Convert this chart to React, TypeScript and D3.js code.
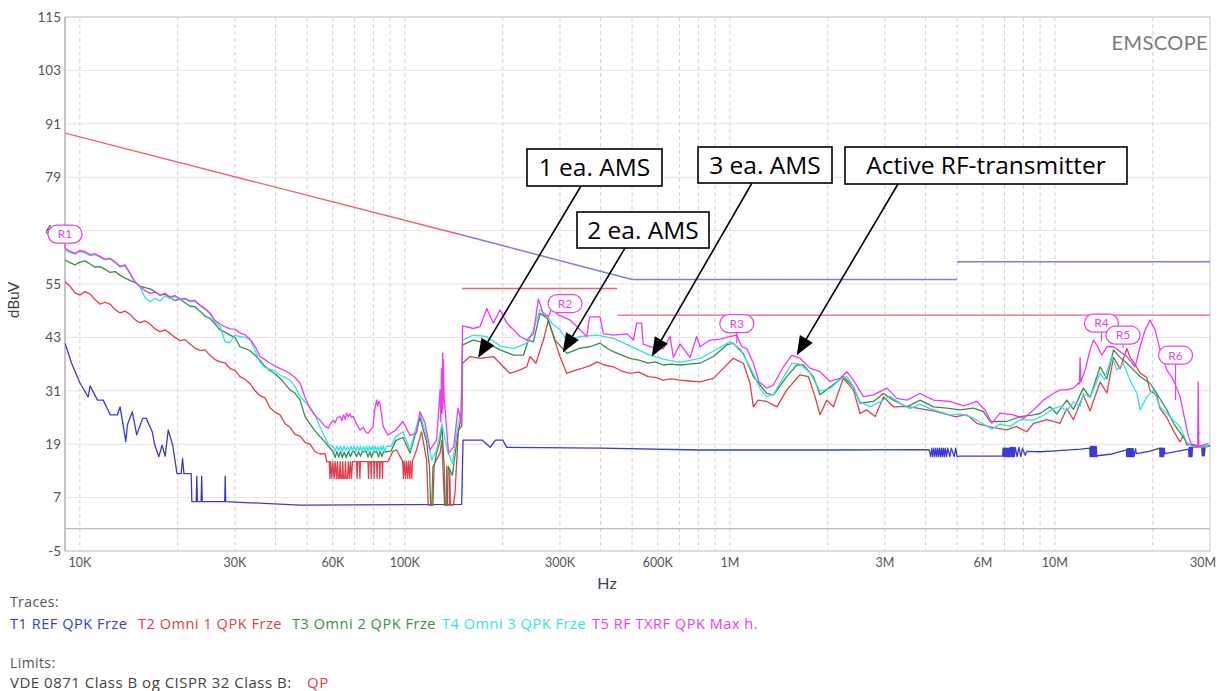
import React from 'react';
import * as d3 from 'd3';

// ---------------- data (frequency in kHz, level in dBuV) ----------------
type P = [number, number];

const yTickValues = [-5, 7, 19, 31, 43, 55, 67, 79, 91, 103, 115];
const xTickHz = [1e4, 3e4, 6e4, 1e5, 3e5, 6e5, 1e6, 3e6, 6e6, 1e7, 3e7];
const xTickLabels = ['10K', '30K', '60K', '100K', '300K', '600K', '1M', '3M', '6M', '10M', '30M'];

const t1Ref: P[] = [
  [9, 41.7], [9.43, 37.2], [10, 32.8], [10.6, 29.6], [10.75, 32.1], [11.33, 28.9], [11.8, 28.9], [12.4, 25.6],
  [13.05, 25.6], [13.3, 27.4], [13.85, 19.6], [14.0, 23.3], [14.5, 26.3], [14.96, 21.1], [15.6, 24.8], [16.0, 24.8],
  [16.7, 21.8], [17.0, 18.8], [17.5, 16.2], [17.9, 18.8], [18.3, 16.3], [18.7, 22.2], [19.3, 18.8], [19.9, 12.4],
  [20.5, 12.4], [20.7, 15.8], [20.9, 12.4], [22.0, 12.4], [22.1, 6.1], [22.8, 6.1], [22.9, 11.8], [23.0, 6.1],
  [23.6, 6.1], [23.7, 11.8], [23.8, 6.1], [27.9, 6.1], [28.0, 11.8], [28.1, 6.1], [47.6, 5.3], [149.5, 5.5],
  [151, 19.9], [173, 19.9], [183, 18.3], [190, 19.9], [200, 19.9], [206, 18.3], [400, 18.1], [809, 17.7],
  [2000, 17.7], [4100, 17.8], [4150, 16.2], [4180, 18.1], [4210, 16.2], [4240, 18.1], [4270, 16.2], [4300, 18.1],
  [4330, 16.2], [4360, 18.1], [4390, 16.2], [4420, 18.1], [4450, 16.2], [4480, 18.1], [4510, 16.2], [4540, 18.1],
  [4570, 16.2], [4600, 18.1], [4640, 16.2], [4680, 18.1], [4750, 16.2], [4800, 18.1], [4900, 16.2], [4950, 18.1],
  [5000, 16.2], [5100, 16.3], [6900, 16.3], [6930, 18.1], [6960, 16.2], [6990, 18.1], [7020, 16.2], [7050, 18.1],
  [7080, 16.2], [7110, 18.1], [7140, 16.2], [7170, 18.1], [7200, 16.2], [7230, 18.1], [7260, 16.2], [7290, 18.3],
  [7320, 16.2], [7350, 18.3], [7380, 16.2], [7410, 18.3], [7440, 16.2], [7470, 18.3], [7500, 16.2], [7550, 18.3],
  [7650, 16.2], [7750, 18.3], [7850, 16.2], [7950, 18.1], [8100, 16.5], [8200, 17.4], [9000, 17.3], [10000, 17.5],
  [12000, 17.9], [12800, 18.1], [12830, 16.2], [12860, 18.5], [12890, 16.2], [12920, 18.5], [12950, 16.2],
  [12980, 18.5], [13010, 16.2], [13040, 18.5], [13070, 16.2], [13100, 18.5], [13130, 16.2], [13160, 18.5],
  [13190, 16.2], [13220, 18.5], [13250, 16.2], [13280, 18.5], [13310, 16.2], [13340, 18.5], [13370, 16.2],
  [13400, 18.5], [13450, 16.2], [13500, 16.4], [15000, 16.8], [16600, 17.7], [16640, 16.2], [16680, 18.0],
  [16720, 16.2], [16760, 18.0], [16800, 16.2], [16840, 18.0], [16880, 16.2], [16920, 18.0], [16960, 16.2],
  [17000, 18.0], [17040, 16.2], [17080, 18.0], [17120, 16.2], [17160, 18.0], [17200, 16.2], [17240, 18.0],
  [17280, 16.2], [17320, 18.0], [17360, 16.2], [17400, 18.0], [17500, 16.2], [17700, 18.0], [17800, 16.9],
  [19500, 17.4], [21000, 18.1], [21050, 16.2], [21100, 18.1], [21150, 16.2], [21200, 18.1], [21250, 16.2],
  [21300, 18.1], [21350, 16.2], [21400, 18.1], [21450, 16.2], [21500, 18.1], [21600, 16.2], [21700, 18.1],
  [21800, 16.9], [25800, 17.9], [25850, 16.2], [25900, 18.3], [25950, 16.2], [26000, 18.3], [26050, 16.2],
  [26100, 18.3], [26150, 16.2], [26200, 18.3], [26250, 16.2], [26300, 18.3], [26400, 16.2], [26500, 18.3],
  [26700, 18.3], [28300, 18.5], [28400, 16.4], [28500, 18.5], [28600, 16.4], [28700, 18.5], [28800, 16.4],
  [29000, 18.5], [30000, 18.6],
];

const t2Omni1: P[] = [
  [9, 55.5], [9.32, 54.5], [9.66, 53.0], [10, 52.5], [10.37, 53.3], [10.74, 52.8], [11.13, 51.5], [11.53, 50.5],
  [11.95, 50.9], [12.38, 50.5], [12.83, 49.3], [13.29, 48.5], [13.77, 48.9], [14.26, 48.2], [14.78, 47.0],
  [15.31, 46.3], [15.86, 46.7], [16.44, 46.0], [17.03, 44.9], [17.64, 44.3], [18.28, 44.7], [18.94, 43.9],
  [19.62, 43.0], [20.33, 42.3], [21.06, 42.5], [21.82, 41.5], [22.61, 40.6], [23.42, 40.1], [24.27, 40.2],
  [25.14, 39.0], [26.05, 38.0], [26.99, 37.5], [27.96, 37.3], [28.97, 36.0], [30, 35.6], [31.1, 34.2],
  [32.2, 33.6], [33.4, 32.6], [34.6, 31.0], [35.8, 29.9], [37.1, 29.4], [38.5, 27.2], [39.8, 26.2], [41.3, 25.6],
  [42.8, 23.6], [44.3, 22.8], [45.9, 21.2], [47.6, 20.8], [49.3, 19.4], [51.1, 19.0], [52.9, 17.3], [54.8, 16.8],
  [56.8, 16.9], [57.5, 15.1], [58.5, 15.1], [58.8, 11.3], [59.1, 15.1], [59.6, 11.3], [60, 15.1], [60.6, 11.3],
  [61, 15.1], [61.6, 11.3], [62, 15.1], [62.4, 11.3], [62.8, 11.3], [63.2, 15.1], [63.5, 11.3], [64, 11.3],
  [64.4, 15.1], [64.7, 11.3], [65.3, 11.3], [65.6, 15.1], [66, 11.3], [66.6, 11.3], [67, 15.1], [67.5, 11.3],
  [68, 15.1], [68.5, 11.3], [69, 15.1], [71, 15.1], [71.3, 11.3], [71.6, 15.1], [72.4, 15.1], [72.7, 11.3],
  [73, 15.1], [77, 15.1], [77.3, 11.3], [77.6, 15.1], [78.5, 15.1], [78.8, 11.3], [79.1, 15.1], [80.2, 15.1],
  [80.5, 11.3], [80.8, 15.1], [81.8, 15.1], [82.1, 11.3], [82.4, 15.1], [83.4, 15.1], [83.7, 11.3], [84, 15.1],
  [85, 15.1], [85.3, 11.3], [85.6, 15.1], [88.7, 15.1], [91.9, 17.4], [94.3, 17.7], [98.4, 15.2], [99, 11.3],
  [99.5, 15.2], [100.5, 11.3], [101, 15.2], [102, 11.3], [102.5, 15.2], [103.5, 11.3], [104, 15.2], [105, 11.3],
  [105.5, 15.2], [108.6, 17.7], [112.5, 21.8], [116.6, 15.5], [118, 5.3], [121, 5.3], [122, 14], [124, 15],
  [128.3, 17.0], [130, 19.9], [131.2, 12], [132.5, 5.3], [134, 5.3], [134.5, 14], [135, 5.3], [137, 5.3],
  [137.5, 13], [138, 5.3], [141, 5.3], [142.6, 8], [146.1, 22.2], [149.7, 23.1], [150.5, 37.2], [158.6, 38.7],
  [170.3, 38.3], [187.2, 38.7], [210.6, 34.9], [226.1, 35.7], [237.2, 36.4], [242.7, 38.7], [253, 37.2],
  [266.8, 42.4], [276.3, 46.9], [286.5, 43.2], [300, 38.7], [315, 34.9], [330, 35.5], [345.8, 35.9], [370, 36.6],
  [390, 37.5], [410, 36.8], [438.1, 36.4], [465, 35.4], [492.8, 34.9], [525, 35.2], [560, 34.2], [590, 34.0],
  [623.1, 33.4], [660, 33.7], [702.3, 33.4], [750, 33.2], [809.2, 33.0], [890, 33.8], [1024, 38.3], [1100, 37.2],
  [1153, 32.7], [1181, 27.4], [1222, 28.9], [1299, 28.6], [1395, 27.4], [1496, 31.2], [1643, 34.6], [1743, 34.2],
  [1828, 29.7], [1893, 25.6], [1987, 28.9], [2082, 27.4], [2232, 33.8], [2399, 31.2], [2514, 25.9], [2637, 26.7],
  [2798, 25.2], [2968, 29.6], [3186, 27.4], [3500, 27.5], [3846, 27.0], [4229, 26.5], [4932, 25.2], [5355, 25.6],
  [5750, 23.7], [6315, 22.9], [7099, 22.2], [7600, 23.0], [8188, 21.8], [8587, 23.7], [9442, 24.5], [10370, 23.7],
  [10880, 27.0], [11400, 24.5], [12230, 30.0], [12830, 26.5], [13770, 33.0], [14450, 30.5], [15140, 38.5],
  [15870, 36.0], [16650, 40.5], [17030, 38.5], [17440, 37.5], [18280, 35.0], [19180, 34.0], [19620, 31.0],
  [20570, 30.0], [21060, 27.0], [22100, 25.0], [23160, 22.0], [24270, 19.5], [24860, 21.0], [25460, 18.8],
  [26370, 19.0], [27620, 18.6], [29320, 18.5], [30000, 18.8],
];

const t3Omni2: P[] = [
  [9, 60.4], [9.32, 59.8], [9.66, 59.3], [10, 59.9], [10.37, 60.2], [10.74, 59.5], [11.13, 58.8], [11.53, 58.9],
  [11.95, 58.3], [12.38, 57.6], [12.83, 57.8], [13.29, 57.0], [13.77, 56.3], [14.26, 55.8], [14.78, 55.3],
  [15.31, 54.5], [15.86, 54.2], [16.44, 53.9], [17.03, 53.3], [17.64, 52.5], [18.28, 52.7], [18.94, 51.9],
  [19.62, 51.3], [20.33, 51.6], [21.06, 50.8], [21.82, 50.0], [22.61, 49.9], [23.42, 48.9], [24.27, 47.8],
  [25.14, 47.3], [26.05, 46.0], [26.99, 44.7], [27.96, 44.2], [28.97, 43.5], [30, 43.0], [31.1, 40.9],
  [32.2, 40.5], [33.4, 40.0], [34.6, 39.0], [35.8, 37.9], [37.1, 36.5], [38.5, 35.5], [39.8, 34.9], [41.3, 33.8],
  [42.8, 32.5], [44.3, 31.2], [45.9, 30.5], [47.6, 28.9], [49.3, 25.2], [51.1, 23.5], [52.9, 22.0], [54.8, 20.7],
  [56.8, 19.5], [58.1, 18.6], [60.2, 17.3], [61, 16.0], [61.8, 17.4], [62.6, 16.1], [63.4, 17.4], [64.2, 16.0],
  [65, 17.2], [66, 16.0], [67, 17.4], [68, 16.2], [69, 17.4], [70, 17.3], [71, 16.2], [72, 17.3], [73, 16.3],
  [74, 17.3], [76, 17.4], [77, 16.1], [78, 17.3], [79, 16.0], [80, 17.3], [82, 17.3], [83, 16.1], [84, 17.3],
  [85, 16.2], [86, 17.3], [88, 17.3], [90.7, 17.5], [93.7, 19.8], [98.6, 20.5], [103.7, 17.0], [111.3, 25.0],
  [116.6, 19.5], [119, 14.0], [120, 5.3], [122, 5.3], [123, 14.0], [125.2, 17.0], [128, 19.5], [130, 23.0],
  [132, 14.5], [133, 5.3], [135, 5.3], [136, 14.0], [140, 12.0], [145.3, 21.0], [149, 25.0], [150.5, 41.3],
  [162.4, 42.4], [178.6, 41.7], [196.2, 40.2], [216, 39.0], [231.6, 39.0], [240, 42.4], [248.6, 42.0],
  [260.5, 48.4], [274, 47.3], [290, 42.4], [315, 39.4], [345.8, 40.6], [370, 40.9], [398.5, 41.7], [420, 40.5],
  [438.1, 39.8], [465, 39.0], [492.8, 38.3], [525, 37.9], [560, 37.2], [590, 37.5], [623.1, 36.8], [660, 37.0],
  [702.3, 36.8], [750, 37.0], [809.2, 37.2], [890, 38.7], [977.7, 41.3], [1024, 41.7], [1100, 39.4], [1181, 34.2],
  [1299, 30.4], [1361, 30.1], [1496, 34.2], [1605, 36.8], [1683, 36.8], [1807, 34.2], [1893, 30.1], [2010, 31.6],
  [2132, 33.0], [2232, 34.2], [2399, 31.9], [2514, 28.2], [2765, 28.6], [2968, 30.4], [3186, 28.9], [3502, 27.4],
  [3846, 28.9], [4229, 27.4], [4649, 27.1], [5106, 26.7], [5615, 27.1], [6027, 26.3], [6315, 24.1], [7099, 24.1],
  [7811, 25.2], [8587, 25.6], [9000, 25.9], [9660, 27.4], [10130, 25.8], [10880, 28.9], [11400, 26.8],
  [12230, 31.6], [12830, 29.5], [13770, 36.4], [14450, 33.7], [15140, 40.2], [15870, 38.5], [16650, 37.2],
  [17440, 35.7], [18280, 34.2], [19620, 32.7], [20570, 30.4], [22100, 26.7], [23160, 23.7], [24270, 21.6],
  [25460, 19.4], [26680, 18.4], [29320, 18.4], [30000, 18.8],
];

const t4Omni3: P[] = [
  [9, 62.7], [9.32, 62.1], [9.66, 61.7], [10, 62.3], [10.37, 62.0], [10.74, 61.4], [11.13, 61.6], [11.53, 61.0],
  [11.95, 60.4], [12.38, 60.6], [12.83, 59.8], [13.29, 58.8], [13.77, 59.0], [14.26, 57.3], [14.78, 55.4],
  [15.31, 54.3], [15.86, 52.0], [16.44, 51.0], [17.03, 51.8], [17.64, 51.2], [18.28, 52.3], [18.94, 51.7],
  [19.62, 52.2], [20.33, 51.4], [21.06, 51.6], [21.82, 51.0], [22.61, 51.1], [23.42, 50.1], [24.27, 49.3],
  [25.14, 48.3], [26.05, 46.5], [26.99, 45.5], [27.96, 42.0], [28.97, 41.8], [30, 43.5], [31.1, 43.2],
  [32.2, 43.0], [33.4, 42.5], [34.6, 40.0], [35.8, 37.5], [37.1, 36.2], [38.5, 35.8], [39.8, 35.5], [41.3, 34.5],
  [42.8, 34.0], [44.3, 33.4], [45.9, 32.0], [47.6, 29.7], [49.3, 28.5], [51.1, 27.4], [52.9, 25.5], [54.8, 22.9],
  [56.8, 20.5], [58.1, 19.1], [60.2, 18.4], [61, 17.4], [61.8, 18.6], [62.6, 17.5], [63.4, 18.6], [64.2, 17.4],
  [65, 18.6], [65.8, 17.5], [66.6, 18.5], [67.4, 17.4], [68.2, 18.6], [69, 17.5], [69.8, 18.6], [70.6, 17.4],
  [71.4, 18.6], [72.2, 17.5], [73, 18.6], [73.8, 17.4], [74.6, 18.5], [75.4, 17.5], [76.2, 18.6], [77, 17.4],
  [77.8, 18.6], [78.6, 17.5], [79.4, 18.6], [80.2, 17.4], [81, 18.6], [81.8, 17.5], [82.6, 18.5], [83.4, 17.4],
  [84.2, 18.6], [85, 17.5], [85.8, 18.6], [86.6, 17.4], [88, 18.6], [90.7, 18.5], [93.7, 20.7], [98.6, 21.8],
  [103.7, 17.7], [111.3, 26.0], [116.6, 20.7], [121, 15.5], [125.2, 17.7], [130, 23.6], [135, 17.7], [140, 14.6],
  [145.3, 22.9], [149, 26.7], [150.5, 42.4], [162.4, 43.5], [178.6, 43.2], [196.2, 41.1], [216, 40.5],
  [237.2, 41.7], [248.6, 44.7], [260.5, 49.2], [274, 48.0], [282.9, 46.2], [300, 44.7], [315, 42.4],
  [345.8, 43.2], [390, 43.5], [438.1, 42.8], [492.8, 41.1], [560, 39.2], [623.1, 38.1], [702.3, 37.4],
  [809.2, 38.3], [868.6, 39.5], [1000, 42.0], [1074, 40.5], [1181, 34.9], [1238, 31.5], [1299, 29.7], [1361, 30.2],
  [1461, 34.0], [1550, 37.2], [1643, 37.0], [1764, 35.0], [1893, 31.0], [2033, 31.5], [2182, 33.5], [2289, 34.2],
  [2399, 32.0], [2514, 28.5], [2699, 27.4], [2897, 28.5], [3110, 29.8], [3338, 28.2], [3583, 27.0], [3846, 28.0],
  [4129, 27.0], [4757, 25.6], [5106, 25.8], [5481, 25.2], [5883, 24.0], [6394, 22.4], [6779, 23.5], [7277, 23.0],
  [7811, 24.5], [8587, 24.4], [9218, 25.5], [9894, 27.0], [10370, 27.5], [10880, 26.5], [11400, 28.5],
  [11950, 27.5], [12230, 30.4], [12830, 29.5], [13770, 34.9], [14200, 33.5], [14960, 38.7], [15500, 35.7],
  [16240, 37.2], [17030, 33.4], [17880, 30.4], [18280, 26.7], [19180, 29.7], [20090, 31.2], [21060, 27.4],
  [22610, 25.2], [24270, 22.9], [25460, 19.4], [26680, 18.4], [29320, 18.4], [30000, 19.0],
];

const t5Txrf: P[] = [
  [9, 63.0], [9.32, 62.4], [9.66, 61.9], [10, 62.5], [10.37, 62.3], [10.74, 61.6], [11.13, 61.8], [11.53, 61.2],
  [11.95, 60.6], [12.38, 60.8], [12.83, 60.0], [13.29, 59.0], [13.77, 59.3], [14.26, 57.5], [14.78, 55.5],
  [15.31, 54.5], [15.86, 53.5], [16.44, 52.9], [17.03, 53.2], [17.64, 52.5], [18.28, 52.9], [18.94, 52.1],
  [19.62, 52.4], [20.33, 51.6], [21.06, 51.8], [21.82, 51.2], [22.61, 51.3], [23.42, 50.3], [24.27, 49.5],
  [25.14, 48.5], [26.05, 46.8], [26.99, 46.0], [27.96, 45.4], [28.97, 44.9], [30, 44.8], [31.1, 44.0],
  [32.2, 43.6], [33.4, 42.6], [34.6, 41.0], [35.8, 38.7], [37.1, 38.0], [38.5, 37.2], [39.8, 36.6], [41.3, 36.0],
  [42.8, 35.5], [44.3, 34.9], [45.9, 34.0], [47.6, 32.7], [49.3, 29.5], [51.1, 27.0], [52.9, 25.5], [54.8, 24.4],
  [56.8, 23.0], [58.1, 22.6], [59, 23.6], [60.2, 24.4], [61, 23.8], [62, 25.0], [63.2, 25.2], [64, 24.3],
  [64.8, 25.6], [65.5, 24.6], [66.2, 26.0], [67, 25.2], [67.8, 25.8], [68.5, 25.0], [69.3, 25.3], [70.2, 24.4],
  [71, 23.5], [72.8, 22.2], [74.5, 22.8], [76, 21.6], [77.1, 21.5], [79.8, 22.9], [80.6, 26.5], [81.4, 28.0],
  [81.8, 28.9], [82.5, 27.5], [83.1, 28.6], [83.8, 28.2], [85.8, 22.9], [88.7, 21.0], [93.7, 22.2], [98.6, 24.1],
  [103.7, 21.0], [108.6, 21.5], [111.3, 26.3], [115.3, 23.8], [119.5, 17.7], [125.2, 19.9], [128.3, 31.2],
  [129, 24], [129.6, 36], [130.2, 26], [130.5, 39.5], [131, 27], [131.4, 38], [132, 29.7], [136.2, 17.0],
  [141.3, 18.4], [145.7, 27.1], [149, 24.4], [150.5, 45.6], [162.4, 45.0], [170.3, 45.4], [178.6, 49.5],
  [187.2, 46.2], [196.2, 49.2], [206, 46.2], [216, 44.7], [226.1, 43.2], [237.2, 42.4], [248.6, 43.8],
  [257.5, 51.6], [266.8, 48.2], [276.3, 47.6], [282.9, 49.5], [296.5, 48.0], [306.7, 47.6], [322.2, 46.9],
  [345.8, 44.7], [362.7, 43.2], [370, 47.6], [398.5, 47.6], [407.9, 43.8], [438.1, 43.5], [483.1, 43.8],
  [505, 42.4], [516.8, 46.2], [534.9, 46.2], [540.9, 41.5], [580.6, 40.7], [623.1, 40.4], [654.3, 43.2],
  [670, 38.5], [702.3, 41.5], [753.8, 38.5], [790.3, 43.2], [809.2, 40.9], [868.6, 42.4], [932.4, 42.6],
  [1000, 43.2], [1050, 43.5], [1087, 40.9], [1127, 40.5], [1181, 37.2], [1227, 33.1], [1299, 31.6], [1361, 32.3],
  [1461, 36.4], [1550, 39.0], [1643, 38.3], [1764, 36.1], [1893, 35.3], [2033, 33.1], [2182, 33.8], [2289, 35.3],
  [2399, 33.4], [2575, 29.7], [2765, 30.1], [3040, 31.6], [3263, 29.3], [3502, 28.9], [3846, 30.4], [4229, 28.9],
  [4757, 28.6], [5230, 27.6], [5750, 28.6], [6099, 26.7], [6394, 23.7], [6779, 26.0], [7453, 25.6], [8000, 24.8],
  [8587, 26.7], [9218, 28.9], [9894, 30.4], [10370, 31.2], [10880, 31.2], [11400, 31.6], [11810, 32.7],
  [11900, 32.5], [11950, 38.4], [12000, 33.0], [12390, 35.7], [12830, 40.2], [13140, 42.4], [13460, 41.3],
  [13940, 39.0], [14450, 40.9], [15140, 40.9], [15870, 39.8], [16650, 38.7], [17650, 36.4], [18280, 40.9],
  [18950, 44.7], [19620, 46.9], [20340, 44.7], [21060, 40.2], [22100, 35.7], [23160, 33.4], [24270, 29.7],
  [24860, 26.0], [25750, 20.7], [26370, 18.8], [27500, 18.4], [27600, 33.0], [27700, 18.4], [28650, 18.8],
  [29660, 19.2],
];

const vdeLimit: P[][] = [
  [[9, 88.9], [150, 66]],
  [[150, 54], [450, 54]],
  [[450, 48], [30000, 48]],
];
const cisprLimit: P[][] = [
  [[150, 66], [500, 56], [5000, 56]],
  [[5000, 60], [30000, 60]],
];

const traceNames = ['T1 REF QPK Frze', 'T2 Omni 1 QPK Frze', 'T3 Omni 2 QPK Frze', 'T4 Omni 3 QPK Frze', 'T5 RF TXRF QPK Max h.'];
const traceColors = ['#3a3ad8', '#e0404e', '#3c8c4c', '#30e4e4', '#f03af0'];
const traceData = [t1Ref, t2Omni1, t3Omni2, t4Omni3, t5Txrf];

const markerNames = ['R1', 'R2', 'R3', 'R4', 'R5', 'R6'];
const markerKHz = [9, 311, 1050, 13900, 16200, 23500];
const markerDb = [63.0, 51.4, 41.7, 42.0, 40.6, 28.9];
const markerLabelDb = [66.2, 50.6, 46.1, 46.2, 43.5, 39.0];

const noteTexts = ['1 ea. AMS', '2 ea. AMS', '3 ea. AMS', 'Active RF-transmitter'];
const noteTipKHz = [168, 306, 575, 1605];
const noteTipDb = [38.4, 39.6, 38.7, 39.0];

// ---------------- layout ----------------
const W = 1218;
const H = 691;
const PL = 65, PR = 1210, PT = 17, PB = 551;
const noteBoxes = [
  { x: 527, y: 149, w: 135, h: 37 },
  { x: 577, y: 212, w: 132, h: 36 },
  { x: 698, y: 147, w: 134, h: 36 },
  { x: 845, y: 147, w: 282, h: 37 },
];
const noteTails = [[581, 186], [625, 248], [752, 183], [898, 184]];
const legendX = [10, 138, 292, 442, 592];

export default function App() {
  const x = d3.scaleLog().domain([9e3, 3e7]).range([PL, PR]);
  const y = d3.scaleLinear().domain([-5, 115]).range([PB, PT]);
  const line = d3.line<P>().x(d => x(d[0] * 1000)).y(d => y(d[1]));
  const grid = x.ticks().filter(t => t > 9e3 && t < 3e7);
  const font = 'Lato, "Open Sans", sans-serif';
  const lfont = '"Open Sans", Lato, sans-serif';

  return (
    <svg width={W} height={H} style={{ position: 'absolute', left: 0, top: 0, background: '#fff' }}
      xmlns="http://www.w3.org/2000/svg">
      <defs>
        <clipPath id="plot"><rect x={PL} y={PT} width={PR - PL} height={PB - PT} /></clipPath>
      </defs>
      <rect width={W} height={H} fill="#fff" />
      {yTickValues.map(v => (
        <line key={'h' + v} x1={PL} x2={PR} y1={y(v)} y2={y(v)} stroke="#e4e4e4" strokeWidth={1} />
      ))}
      {grid.map(t => (
        <line key={'v' + t} x1={x(t)} x2={x(t)} y1={PT} y2={PB} stroke="#d2d2d2" strokeWidth={1} strokeDasharray="4,3" />
      ))}
      <line x1={PL} x2={PR} y1={y(0)} y2={y(0)} stroke="#a8a8a8" strokeWidth={1.2} />
      <rect x={PL} y={PT} width={PR - PL} height={PB - PT} fill="none" stroke="#c8c8c8" strokeWidth={1} />
      <line x1={PL} x2={PL} y1={PT} y2={PB} stroke="#b0b0b0" strokeWidth={1.2} />

      {yTickValues.map(v => (
        <text key={'yl' + v} x={61} y={y(v)} dy="0.35em" textAnchor="end" fontFamily={font} fontSize={13.5} fill="#555">{v}</text>
      ))}
      {xTickHz.map((f, i) => {
        const last = i === xTickHz.length - 1;
        return (
          <text key={'xl' + f} x={last ? 1216 : x(f)} y={567} textAnchor={last ? 'end' : 'middle'}
            fontFamily={font} fontSize={12.5} fill="#555">{xTickLabels[i]}</text>
        );
      })}
      <text x={607} y={589} textAnchor="middle" fontFamily={font} fontSize={16} fill="#444">Hz</text>
      <text transform="translate(19,300) rotate(-90)" textAnchor="middle" fontFamily={font} fontSize={15.5} fill="#444">dBuV</text>
      <text x={1208} y={50} textAnchor="end" fontFamily={font} fontSize={20} fill="#7a7a7a" letterSpacing={0.4}>EMSCOPE</text>

      <g clipPath="url(#plot)" fill="none">
        {vdeLimit.map((seg, i) => (
          <path key={'vde' + i} d={line(seg) || ''} stroke="#ec6272" strokeWidth={1.4} />
        ))}
        {cisprLimit.map((seg, i) => (
          <path key={'cis' + i} d={line(seg) || ''} stroke="#7c7cec" strokeWidth={1.5} />
        ))}
        {traceData.map((d, i) => (
          <path key={'tr' + i} d={line(d) || ''} stroke={traceColors[i]} strokeWidth={1.3} strokeLinejoin="round" />
        ))}
      </g>

      {markerNames.map((m, i) => {
        const mx = x(markerKHz[i] * 1000);
        const ly = y(markerLabelDb[i]);
        return (
          <g key={m}>
            <line x1={mx} x2={mx} y1={ly + 9} y2={y(markerDb[i])} stroke="#e845e8" strokeWidth={1.2} />
            <rect x={mx - 17} y={ly - 9} width={34} height={18} rx={9} fill="#fff" stroke="#e845e8" strokeWidth={1.2} />
            <text x={mx} y={ly} dy="0.36em" textAnchor="middle" fontFamily={font} fontSize={12} fill="#e845e8">{m}</text>
          </g>
        );
      })}

      {noteTexts.map((t, i) => {
        const b = noteBoxes[i];
        const [tx, ty] = noteTails[i];
        const hx = x(noteTipKHz[i] * 1000);
        const hy = y(noteTipDb[i]);
        const ang = Math.atan2(hy - ty, hx - tx);
        const L = 19, Wd = 7.5;
        const bx = hx - L * Math.cos(ang), by = hy - L * Math.sin(ang);
        const px = -Math.sin(ang) * Wd, py = Math.cos(ang) * Wd;
        return (
          <g key={t}>
            <line x1={tx} y1={ty} x2={bx} y2={by} stroke="#000" strokeWidth={1.6} />
            <polygon points={`${hx},${hy} ${bx + px},${by + py} ${bx - px},${by - py}`} fill="#000" />
            <rect x={b.x} y={b.y} width={b.w} height={b.h} fill="#fff" stroke="#000" strokeWidth={1.6} />
            <text x={b.x + b.w / 2} y={b.y + b.h / 2} dy="0.36em" textAnchor="middle"
              fontFamily='"Open Sans", sans-serif' fontSize={24.5} fill="#000">{t}</text>
          </g>
        );
      })}

      <text x={10} y={607} fontFamily={lfont} fontSize={14} fill="#555" letterSpacing={0.4}>Traces:</text>
      {traceNames.map((n, i) => (
        <text key={n} x={legendX[i]} y={629} fontFamily={lfont} fontSize={14.5} letterSpacing={0.55} fill={traceColors[i]}>{n}</text>
      ))}
      <text x={10} y={668} fontFamily={lfont} fontSize={14} fill="#555" letterSpacing={0.4}>Limits:</text>
      <text x={10} y={688} fontFamily={lfont} fontSize={15} letterSpacing={0.5} fill="#444">VDE 0871 Class B og CISPR 32 Class B:</text>
      <text x={307} y={688} fontFamily={lfont} fontSize={15} letterSpacing={0.5} fill="#e0404e">QP</text>
    </svg>
  );
}
